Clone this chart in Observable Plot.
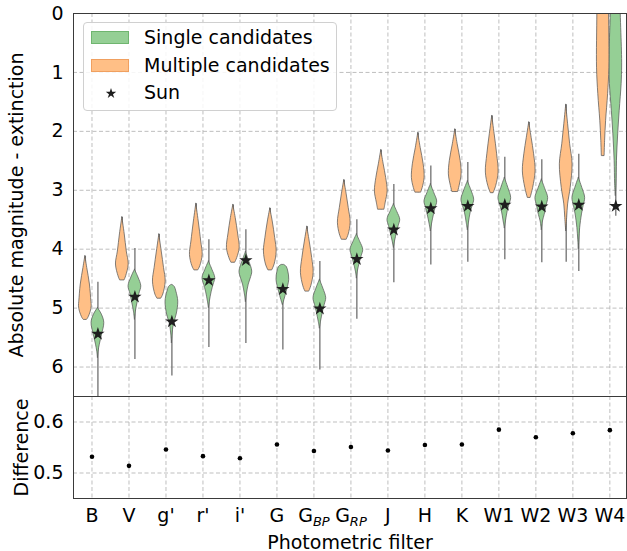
<!DOCTYPE html>
<html><head><meta charset="utf-8">
<script src="https://cdn.jsdelivr.net/npm/d3@7"></script>
<script src="https://cdn.jsdelivr.net/npm/@observablehq/plot@0.6"></script>
<style>
html,body{margin:0;padding:0;background:#fff;}
#chart{position:relative;width:627px;height:551px;font-family:"DejaVu Sans",sans-serif;overflow:hidden;}
#chart svg{display:block;}
#legend{position:absolute;left:83px;top:22px;width:252px;height:87px;border:1px solid #d0d0d0;border-radius:4px;background:rgba(255,255,255,0.85);font-family:"DejaVu Sans";font-size:19px;color:#000;}
.lrow{position:absolute;left:0;height:27px;width:250px;}
.lsw{position:absolute;left:7px;top:7px;width:38px;height:13px;box-sizing:border-box;}
.ltx{position:absolute;left:60px;top:0;line-height:27px;white-space:nowrap;}
</style></head><body><div id="chart"></div>
<script>
// ---------- data ----------
const filters = ["B","V","g'","r'","i'","G","G_BP","G_RP","J","H","K","W1","W2","W3","W4"];
const sunMag = [5.44, 4.81, 5.23, 4.53, 4.19, 4.68, 5.01, 4.17, 3.67, 3.31, 3.27, 3.25, 3.28, 3.25, 3.27];
const difference = [0.532, 0.514, 0.546, 0.533, 0.529, 0.556, 0.543, 0.551, 0.544, 0.555, 0.556, 0.585, 0.570, 0.578, 0.584];

// extent [min, max] of each violin (thin tails included)
const singleRange = [[4.56,6.7],[3.99,5.87],[4.61,6.15],[3.84,5.67],[3.67,5.60],[4.28,5.71],[4.21,6.05],[3.50,5.19],[2.90,4.57],[2.59,4.27],[2.53,4.22],[2.44,4.18],[2.48,4.23],[2.39,4.38],[-0.5,3.44]];
const multipleRange = [[4.12,5.20],[3.46,4.53],[3.75,4.84],[3.23,4.36],[3.25,4.23],[3.31,4.36],[3.62,4.72],[2.83,3.84],[2.32,3.33],[2.03,3.04],[1.97,3.03],[1.74,3.05],[1.85,3.13],[1.55,4.22],[-0.5,2.42]];

// violin bodies: [magnitude, relative half-width]
const singleProfile = [
  [[5.00,0],[5.11,0.62],[5.25,1],[5.45,0.65],[5.62,0.3],[5.74,0.1],[5.85,0]],
  [[4.35,0],[4.48,0.55],[4.63,1],[4.76,0.7],[4.89,0.45],[5.06,0.15],[5.2,0]],
  [[4.61,0.12],[4.64,0.45],[4.72,0.7],[4.89,1],[5.11,0.75],[5.28,0.3],[5.45,0.1],[5.6,0]],
  [[4.21,0],[4.35,0.55],[4.49,1],[4.60,0.75],[4.72,0.45],[4.89,0.15],[5.0,0]],
  [[4.05,0],[4.2,0.5],[4.38,1],[4.50,0.75],[4.60,0.45],[4.77,0.15],[4.9,0]],
  [[4.27,0.25],[4.30,0.6],[4.38,0.85],[4.52,1],[4.72,0.6],[4.86,0.25],[4.95,0]],
  [[4.52,0],[4.67,0.55],[4.83,1],[4.95,0.75],[5.06,0.5],[5.23,0.18],[5.35,0]],
  [[3.75,0],[3.88,0.55],[4.01,1],[4.12,0.75],[4.24,0.45],[4.38,0.15],[4.5,0]],
  [[3.24,0],[3.37,0.55],[3.50,1],[3.61,0.75],[3.72,0.5],[3.87,0.18],[3.98,0]],
  [[2.90,0],[3.05,0.55],[3.19,1],[3.30,0.75],[3.41,0.5],[3.58,0.18],[3.7,0]],
  [[2.85,0],[3.0,0.55],[3.16,1],[3.27,0.75],[3.38,0.45],[3.55,0.18],[3.68,0]],
  [[2.79,0],[2.96,0.55],[3.13,1],[3.24,0.75],[3.36,0.45],[3.53,0.18],[3.65,0]],
  [[2.82,0],[2.98,0.55],[3.13,1],[3.26,0.75],[3.42,0.45],[3.53,0.18],[3.68,0]],
  [[2.79,0],[2.96,0.55],[3.13,1],[3.27,0.75],[3.41,0.5],[3.64,0.22],[3.85,0.08],[4.0,0]],
  [[-0.5,0.7],[0,0.78],[0.63,0.97],[0.9,1],[1.20,0.92],[1.65,0.62],[2.05,0.38],[2.5,0.18],[2.9,0.1],[3.1,0]]
];
const multipleProfile = [
  [[4.12,0],[4.32,0.3],[4.60,0.72],[4.89,0.95],[4.97,1],[5.06,0.85],[5.17,0.45],[5.20,0.25]],
  [[3.46,0],[3.75,0.38],[4.04,0.7],[4.26,1],[4.46,0.6],[4.53,0.35]],
  [[3.75,0],[4.04,0.38],[4.32,0.74],[4.55,1],[4.77,0.62],[4.84,0.3]],
  [[3.23,0],[3.53,0.38],[3.87,0.77],[4.10,1],[4.29,0.62],[4.36,0.3]],
  [[3.25,0],[3.47,0.38],[3.75,0.77],[3.98,1],[4.15,0.62],[4.23,0.3]],
  [[3.31,0],[3.53,0.38],[3.81,0.77],[4.04,1],[4.26,0.68],[4.36,0.3]],
  [[3.62,0],[3.87,0.38],[4.15,0.77],[4.40,1],[4.63,0.62],[4.72,0.3]],
  [[2.83,0],[3.07,0.38],[3.30,0.7],[3.55,1],[3.75,0.7],[3.84,0.38]],
  [[2.32,0],[2.56,0.38],[2.79,0.77],[3.02,1],[3.21,0.7],[3.33,0.5]],
  [[2.03,0],[2.28,0.38],[2.56,0.85],[2.79,1],[2.96,0.7],[3.04,0.45]],
  [[1.97,0],[2.22,0.38],[2.50,0.85],[2.73,1],[2.93,0.68],[3.03,0.45]],
  [[1.74,0],[2.05,0.38],[2.39,0.77],[2.70,1],[2.93,0.62],[3.05,0.22]],
  [[1.85,0],[2.11,0.38],[2.39,0.77],[2.68,1],[2.96,0.62],[3.13,0.22]],
  [[1.55,0],[1.88,0.3],[2.22,0.62],[2.56,1],[2.96,0.7],[3.24,0.3],[3.47,0.15],[3.7,0]],
  [[-0.5,0.9],[0,0.92],[0.92,0.97],[1.37,0.77],[1.82,0.46],[2.16,0.3],[2.42,0.22]]
];

const yTicksTop = [0, 1, 2, 3, 4, 5, 6];
const yTicksBottom = [0.5, 0.6];
const legendLabels = ["Single candidates", "Multiple candidates", "Sun"];

// ---------- styles ----------
const GREEN = "#95cf95", ORANGE = "#ffbf86";
const EDGE = "#5a5a5a";
const HALF = 0.172;
const OFF_M = -0.18, OFF_S = 0.16;
const xDomain = [-0.5, 14.45];
const xTicks = filters.map((_, i) => i);
const gridStyle = {stroke: "#b8b8b8", strokeDasharray: "4,2.5", strokeWidth: 0.9};
const font = {fontSize: "19px", fontFamily: "DejaVu Sans", color: "#000", background: "transparent", overflow: "visible"};

function bodyRows(profiles, group, off) {
  return profiles.flatMap((prof, i) => prof.map(([mag, w]) => ({id: group + i, pos: i + off, mag, hw: w * HALF})));
}
function rangeRows(ranges, off) {
  return ranges.map(([a, b], i) => ({pos: i + off, a, b}));
}
const singleRows = bodyRows(singleProfile, "s", OFF_S);
const multipleRows = bodyRows(multipleProfile, "m", OFF_M);
const tails = rangeRows(singleRange, OFF_S).concat(rangeRows(multipleRange, OFF_M));

const chart = document.getElementById("chart");

const topPlot = Plot.plot({
  width: 627, height: 396,
  marginTop: 13, marginBottom: 0, marginLeft: 73, marginRight: 1,
  style: font,
  x: {domain: xDomain, axis: null},
  y: {domain: [0, 6.5], reverse: true, ticks: yTicksTop, tickFormat: d3.format("d"), tickSize: 0, tickPadding: 10,
      label: "Absolute magnitude - extinction", labelAnchor: "center", labelOffset: 64, labelArrow: false},
  marks: [
    Plot.ruleX(xTicks, {...gridStyle}),
    Plot.ruleY(yTicksTop, {...gridStyle}),
    Plot.ruleX(tails, {x: "pos", y1: "a", y2: "b", stroke: "#7a7a7a", strokeWidth: 1.4, clip: true}),
    Plot.areaX(singleRows, {y: "mag", x1: d => d.pos - d.hw, x2: d => d.pos + d.hw, z: "id",
      fill: GREEN, stroke: EDGE, strokeOpacity: 0.75, strokeWidth: 1, curve: "catmull-rom", clip: true}),
    Plot.areaX(multipleRows, {y: "mag", x1: d => d.pos - d.hw, x2: d => d.pos + d.hw, z: "id",
      fill: ORANGE, stroke: EDGE, strokeOpacity: 0.75, strokeWidth: 1, curve: "catmull-rom", clip: true}),
    Plot.dot(sunMag, {x: (d, i) => i + OFF_S, y: d => d, symbol: "star", r: 4.2, fill: "#1e1e1e", stroke: "none"}),
    Plot.frame({stroke: "#3a3a3a", strokeWidth: 1})
  ]
});

const bottomPlot = Plot.plot({
  width: 627, height: 157,
  marginTop: 1, marginBottom: 54, marginLeft: 73, marginRight: 1,
  style: font,
  x: {domain: xDomain, ticks: xTicks, tickFormat: i => filters[i], tickSize: 0, tickPadding: 10,
      label: "Photometric filter", labelAnchor: "center", labelOffset: 50, labelArrow: false},
  y: {domain: [0.45, 0.65], ticks: yTicksBottom, tickFormat: d3.format(".1f"), tickSize: 0, tickPadding: 10,
      label: "Difference", labelAnchor: "center", labelOffset: 59, labelArrow: false},
  marks: [
    Plot.ruleX(xTicks, {...gridStyle}),
    Plot.ruleY(yTicksBottom, {...gridStyle}),
    Plot.dot(difference, {x: (d, i) => i, y: d => d, r: 2.3, fill: "#000", stroke: "none"}),
    Plot.frame({stroke: "#3a3a3a", strokeWidth: 1})
  ]
});
bottomPlot.style.marginTop = "-1px";

chart.appendChild(topPlot);
chart.appendChild(bottomPlot);

const ns = "http://www.w3.org/2000/svg";
// strip any direction arrows from axis labels, add subscripts for Gaia filters
[topPlot, bottomPlot].forEach(svg => svg.querySelectorAll("text").forEach(t => {
  const s = t.textContent;
  if (/[←→↑↓]/.test(s)) {
    const clean = s.replace(/[←→↑↓]/g, "").trim();
    while (t.firstChild) t.removeChild(t.firstChild);
    t.textContent = clean;
  }
  if (s === "G_BP" || s === "G_RP") {
    while (t.firstChild) t.removeChild(t.firstChild);
    const a = document.createElementNS(ns, "tspan"); a.textContent = "G"; t.appendChild(a);
    const b = document.createElementNS(ns, "tspan");
    b.textContent = s.slice(2);
    b.setAttribute("font-style", "italic");
    b.setAttribute("font-size", "13px");
    b.setAttribute("dy", "4");
    t.appendChild(b);
  }
}));

// legend
const legend = document.createElement("div");
legend.id = "legend";
const swatches = [GREEN, ORANGE, null];
const swEdge = ["#6fb56f", "#f0a060", null];
legendLabels.forEach((lab, i) => {
  const row = document.createElement("div");
  row.className = "lrow";
  row.style.top = (1 + i * 27.5) + "px";
  if (swatches[i]) {
    const sw = document.createElement("div");
    sw.className = "lsw";
    sw.style.background = swatches[i];
    sw.style.border = "1px solid " + swEdge[i];
    row.appendChild(sw);
  } else {
    const svg = document.createElementNS(ns, "svg");
    svg.setAttribute("width", 16); svg.setAttribute("height", 16);
    svg.style.position = "absolute"; svg.style.left = "19px"; svg.style.top = "6px";
    const p = document.createElementNS(ns, "path");
    p.setAttribute("d", d3.symbol(d3.symbolStar, 34)());
    p.setAttribute("transform", "translate(8,8.5)");
    p.setAttribute("fill", "#1e1e1e");
    svg.appendChild(p);
    row.appendChild(svg);
  }
  const tx = document.createElement("div");
  tx.className = "ltx";
  tx.textContent = lab;
  row.appendChild(tx);
  legend.appendChild(row);
});
chart.appendChild(legend);
</script></body></html>
